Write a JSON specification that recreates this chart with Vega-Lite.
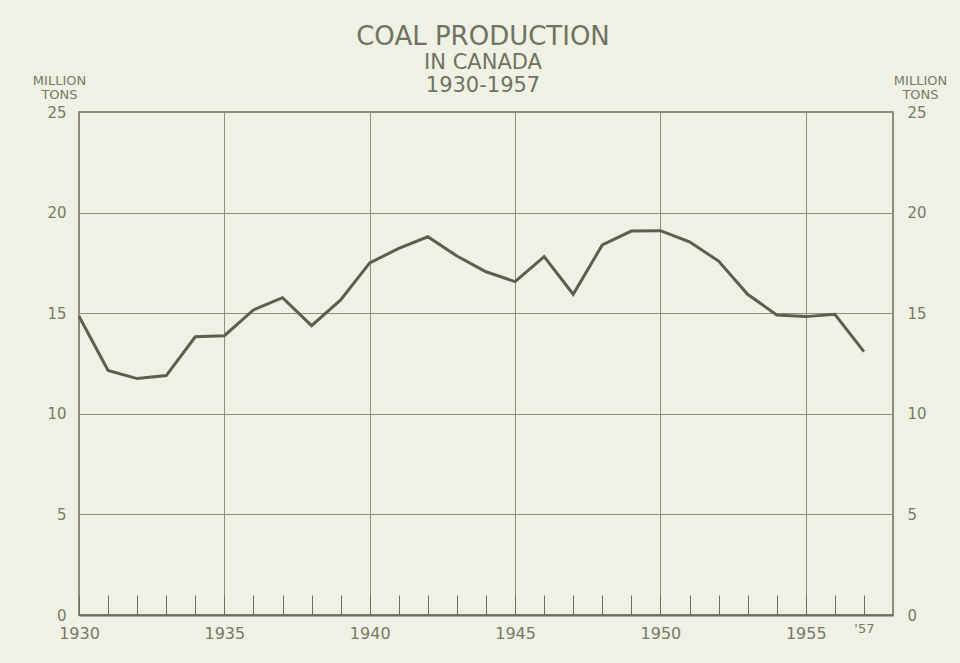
{
  "$schema": "https://vega.github.io/schema/vega-lite/v6.json",
  "autosize": "none",
  "width": 814,
  "height": 503,
  "padding": {"left": 79, "top": 112, "right": 67, "bottom": 48},
  "background": "#eef1e3",
  "title": {
    "text": "COAL PRODUCTION",
    "subtitle": ["IN CANADA", "1930-1957"],
    "anchor": "middle",
    "offset": -22,
    "fontSize": 26,
    "fontWeight": "normal",
    "font": "DejaVu Sans",
    "color": "#70735f",
    "subtitleFont": "DejaVu Sans",
    "subtitleFontSize": 21,
    "subtitleColor": "#70735f",
    "subtitleLineHeight": 23,
    "subtitlePadding": 2,
    "dx": -3
  },
  "data": {
    "values": [
      {"year": 1930, "tons": 14.85},
      {"year": 1931, "tons": 12.15},
      {"year": 1932, "tons": 11.75},
      {"year": 1933, "tons": 11.9},
      {"year": 1934, "tons": 13.83},
      {"year": 1935, "tons": 13.88},
      {"year": 1936, "tons": 15.16},
      {"year": 1937, "tons": 15.77},
      {"year": 1938, "tons": 14.38},
      {"year": 1939, "tons": 15.66},
      {"year": 1940, "tons": 17.5},
      {"year": 1941, "tons": 18.22},
      {"year": 1942, "tons": 18.8},
      {"year": 1943, "tons": 17.84},
      {"year": 1944, "tons": 17.06},
      {"year": 1945, "tons": 16.57},
      {"year": 1946, "tons": 17.81},
      {"year": 1947, "tons": 15.94},
      {"year": 1948, "tons": 18.39},
      {"year": 1949, "tons": 19.08},
      {"year": 1950, "tons": 19.1},
      {"year": 1951, "tons": 18.55},
      {"year": 1952, "tons": 17.59},
      {"year": 1953, "tons": 15.94},
      {"year": 1954, "tons": 14.91},
      {"year": 1955, "tons": 14.83},
      {"year": 1956, "tons": 14.95},
      {"year": 1957, "tons": 13.09}
    ]
  },
  "config": {
    "view": {"stroke": "#6b6e5c", "strokeWidth": 1.5},
    "axis": {
      "labelFont": "DejaVu Sans",
      "titleFont": "DejaVu Sans",
      "labelColor": "#777a67",
      "titleColor": "#777a67",
      "gridColor": "#8e907f",
      "gridWidth": 1
    }
  },
  "layer": [
    {
      "mark": {"type": "line", "stroke": "#5c5f4e", "strokeWidth": 3, "strokeJoin": "miter"},
      "encoding": {
        "x": {
          "field": "year",
          "type": "quantitative",
          "scale": {"domain": [1930, 1958], "nice": false, "zero": false},
          "axis": {
            "orient": "bottom",
            "values": [1930,1931,1932,1933,1934,1935,1936,1937,1938,1939,1940,1941,1942,1943,1944,1945,1946,1947,1948,1949,1950,1951,1952,1953,1954,1955,1956,1957],
            "tickCount": 40,
            "format": "d",
            "labelExpr": "datum.value == 1957 ? \"'57\" : (datum.value % 5 == 0 ? datum.label : '')",
            "labelFontSize": {"condition": {"test": "datum.value == 1957", "value": 13}, "value": 16},
            "labelPadding": {"condition": {"test": "datum.value == 1957", "value": 27}, "value": 30},
            "labelBaseline": "top",
            "labelFlush": false,
            "labelOverlap": false,
            "tickSize": -20,
            "tickColor": "#6b6e5c",
            "tickWidth": 1,
            "domain": true,
            "domainColor": "#6b6e5c",
            "domainWidth": 2,
            "grid": true,
            "gridOpacity": {"condition": {"test": "datum.value % 5 == 0 && datum.value > 1930", "value": 1}, "value": 0},
            "title": null
          }
        },
        "y": {
          "field": "tons",
          "type": "quantitative",
          "scale": {"domain": [0, 25], "nice": false},
          "axis": {
            "orient": "left",
            "values": [0, 5, 10, 15, 20, 25],
            "grid": true,
            "ticks": false,
            "domain": false,
            "labelPadding": 13,
            "labelFontSize": 15,
            "labelBaseline": "middle",
            "title": ["MILLION", "TONS"],
            "titleAngle": 0,
            "titleAlign": "center",
            "titleBaseline": "alphabetic",
            "titleX": -20,
            "titleY": -28,
            "titleFontSize": 13,
            "titleFontWeight": "normal",
            "titleLineHeight": 14
          }
        }
      }
    },
    {
      "mark": {"type": "line", "stroke": "#5c5f4e", "strokeWidth": 3, "strokeOpacity": 0},
      "encoding": {
        "x": {"field": "year", "type": "quantitative"},
        "y": {
          "field": "tons",
          "type": "quantitative",
          "scale": {"domain": [0, 25], "nice": false},
          "axis": {
            "orient": "right",
            "values": [0, 5, 10, 15, 20, 25],
            "grid": false,
            "ticks": false,
            "domain": false,
            "labelPadding": 14,
            "labelFontSize": 15,
            "labelBaseline": "middle",
            "title": ["MILLION", "TONS"],
            "titleAngle": 0,
            "titleAlign": "center",
            "titleBaseline": "alphabetic",
            "titleX": 27,
            "titleY": -28,
            "titleFontSize": 13,
            "titleFontWeight": "normal",
            "titleLineHeight": 14
          }
        }
      }
    }
  ],
  "resolve": {"scale": {"y": "independent"}, "axis": {"y": "independent"}}
}
